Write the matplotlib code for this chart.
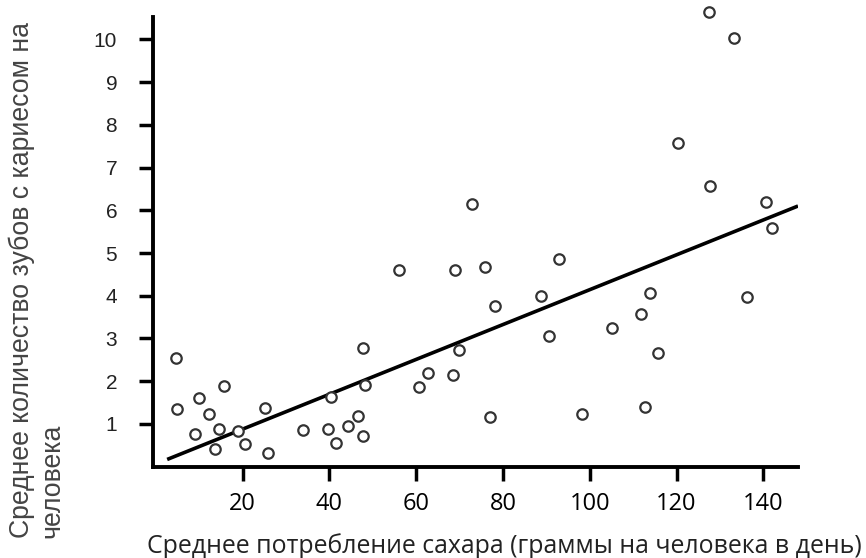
import matplotlib
matplotlib.use("Agg")
import matplotlib.pyplot as plt

# sugar intake (g/person/day) vs decayed teeth per person
sugar = [4.6, 4.8, 9.9, 9.0, 12.3, 15.8, 14.6, 13.6, 19.0, 20.6, 25.8, 25.2,
         33.8, 39.7, 41.4, 40.4, 44.3, 46.6, 47.7, 47.7, 48.3, 56.0, 60.7,
         62.8, 68.4, 69.9, 69.0, 75.8, 78.2, 76.9, 72.8, 127.4, 133.2, 120.4,
         127.6, 140.6, 142.0, 92.9, 88.8, 113.9, 136.3, 111.7, 105.2, 90.6,
         115.8, 98.2, 112.8]
teeth = [2.54, 1.34, 1.60, 0.77, 1.24, 1.89, 0.88, 0.41, 0.83, 0.54, 0.33, 1.37,
         0.85, 0.88, 0.55, 1.64, 0.95, 1.19, 0.72, 2.77, 1.92, 4.60, 1.87,
         2.19, 2.15, 2.73, 4.60, 4.68, 3.77, 1.16, 6.15, 10.63, 10.04, 7.57,
         6.57, 6.19, 5.59, 4.86, 3.99, 4.06, 3.96, 3.57, 3.25, 3.06,
         2.65, 1.23, 1.40]

# trend line end points
trend_x = [2.6, 148.0]
trend_y = [0.17, 6.10]

x_ticks = [20, 40, 60, 80, 100, 120, 140]
y_ticks = [1, 2, 3, 4, 5, 6, 7, 8, 9, 10]

fig = plt.figure(figsize=(8.66, 5.58), dpi=100)
ax = fig.add_axes([0.177, 0.1636, 0.7445, 0.8065])

ax.plot(trend_x, trend_y, color="black", lw=2.6, solid_capstyle="butt", zorder=2)
ax.plot(sugar, teeth, "o", ms=7.5, mfc="white", mec="#333333", mew=1.6,
        clip_on=False, zorder=3)

ax.set_xlim(-0.6, 148.0)
ax.set_ylim(0, 10.53)

for side in ["top", "right"]:
    ax.spines[side].set_visible(False)
for side in ["left", "bottom"]:
    ax.spines[side].set_linewidth(2.8)

ax.set_xticks(x_ticks)
ax.set_xticklabels([str(v) for v in x_ticks], fontsize=17, family="Open Sans")
ax.set_yticks(y_ticks)
ax.set_yticklabels([str(v) for v in y_ticks], fontsize=15, family="Liberation Sans",
                   color="#222222")
ax.tick_params(axis="both", direction="out", length=10, width=2.5, color="black")
ax.tick_params(axis="y", pad=16)
ax.tick_params(axis="x", pad=8)

fig.text(504.5 / 866, 5 / 558, "Среднее потребление сахара (граммы на человека в день)",
         ha="center", va="baseline", fontsize=17.9, family="Open Sans",
         color="#222222")
fig.text(9 / 866, 20 / 558, "Среднее количество зубов с кариесом на\nчеловека",
         rotation=90, ha="left", va="bottom", multialignment="left",
         fontsize=19.2, family="Liberation Sans", color="#444444",
         linespacing=1.2)

fig.savefig("out.png", dpi=100, facecolor="white")
